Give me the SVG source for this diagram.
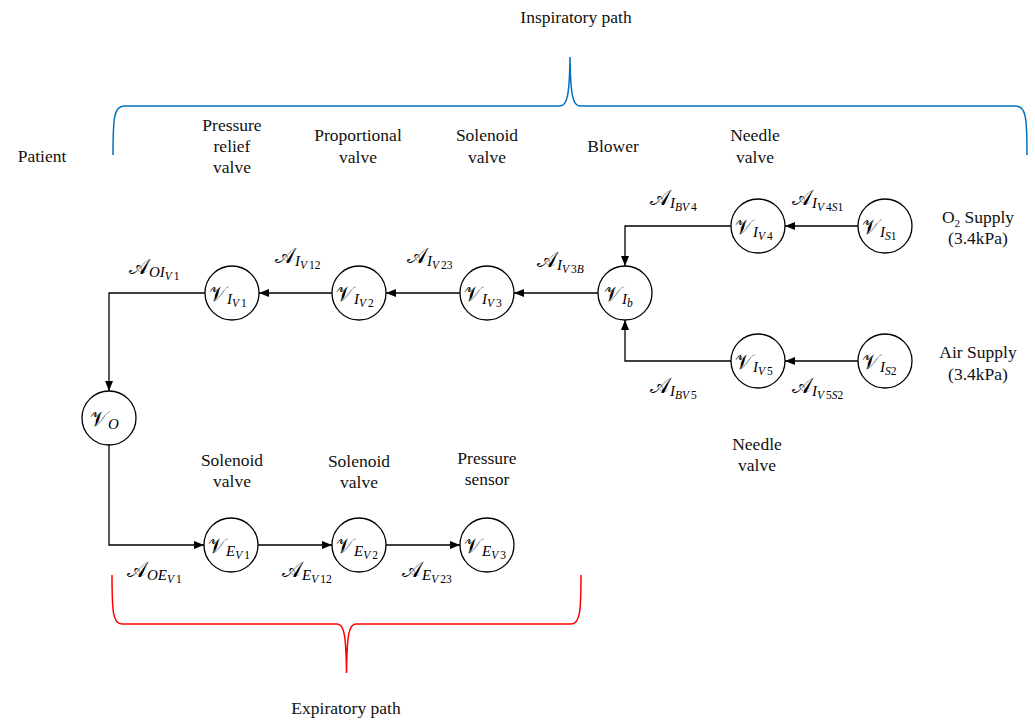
<svg xmlns="http://www.w3.org/2000/svg" width="1035" height="725" viewBox="0 0 1035 725">
<defs>
<style>
.lbl{font-family:"Liberation Serif","Times New Roman",serif;font-size:17.5px;fill:#111;text-anchor:middle}
.node circle{fill:#fff;stroke:#000;stroke-width:1.3}
.big{font-family:"DejaVu Serif","DejaVu Sans",serif;font-size:21px;font-style:normal}
.m{font-family:"Liberation Serif",serif;fill:#000}
.s1{font-size:15px;font-style:italic}
.s2{font-size:11.5px;font-style:normal}
.it{font-style:italic}
.edge{fill:none;stroke:#000;stroke-width:1.3}
</style>
<marker id="ah" viewBox="0 0 10 10" refX="10" refY="5" markerWidth="10" markerHeight="10" markerUnits="userSpaceOnUse" orient="auto">
<path d="M0,1 L10,5 L0,9 Z" fill="#000"/>
</marker>
</defs>
<rect width="1035" height="725" fill="#fff"/>

<g id="brackets" fill="none" stroke-width="1.5">
<path d="M113,155 C113,118 114,106 124,106 L560,106 C567,106 569.5,96 570,57 C570.5,96 573,106 580,106 L1016,106 C1026,106 1027,118 1027,155" stroke="#0070C0"/>
<path d="M112,575 C112,612 113,624 122,624 L337,624 C344,624 346,634 346.5,673 C347,634 349,624 356,624 L571,624 C580,624 581,612 581,575" stroke="#FF0000"/>
</g>

<g id="texts">
<text class="lbl" x="576" y="23">Inspiratory path</text>
<text class="lbl" x="346" y="714">Expiratory path</text>
<text class="lbl" x="42" y="162">Patient</text>
<text class="lbl" x="232" y="131">Pressure</text>
<text class="lbl" x="232" y="152">relief</text>
<text class="lbl" x="232" y="173">valve</text>
<text class="lbl" x="358" y="141">Proportional</text>
<text class="lbl" x="358" y="163">valve</text>
<text class="lbl" x="487" y="141">Solenoid</text>
<text class="lbl" x="487" y="163">valve</text>
<text class="lbl" x="613" y="152">Blower</text>
<text class="lbl" x="755" y="141">Needle</text>
<text class="lbl" x="755" y="163">valve</text>
<text class="lbl" x="978" y="223">O<tspan font-size="11" dy="4">2</tspan><tspan dy="-4"> Supply</tspan></text>
<text class="lbl" x="978" y="244">(3.4kPa)</text>
<text class="lbl" x="978" y="358">Air Supply</text>
<text class="lbl" x="978" y="380">(3.4kPa)</text>
<text class="lbl" x="757" y="450">Needle</text>
<text class="lbl" x="757" y="471">valve</text>
<text class="lbl" x="232" y="466">Solenoid</text>
<text class="lbl" x="232" y="487">valve</text>
<text class="lbl" x="359" y="467">Solenoid</text>
<text class="lbl" x="359" y="488">valve</text>
<text class="lbl" x="487" y="464">Pressure</text>
<text class="lbl" x="487" y="485">sensor</text>
</g>

<g id="connectors" class="edge">
<line x1="460" y1="293" x2="386" y2="293" marker-end="url(#ah)"/>
<line x1="598" y1="293" x2="514" y2="293" marker-end="url(#ah)"/>
<line x1="332" y1="293" x2="259" y2="293" marker-end="url(#ah)"/>
<polyline points="205,293 109,293 109,391" marker-end="url(#ah)"/>
<line x1="858" y1="226" x2="785" y2="226" marker-end="url(#ah)"/>
<line x1="858" y1="361" x2="785" y2="361" marker-end="url(#ah)"/>
<polyline points="731,226 625,226 625,266" marker-end="url(#ah)"/>
<polyline points="731,361 625,361 625,320" marker-end="url(#ah)"/>
<polyline points="109,445 109,545 204,545" marker-end="url(#ah)"/>
<line x1="258" y1="545" x2="332" y2="545" marker-end="url(#ah)"/>
<line x1="386" y1="545" x2="460" y2="545" marker-end="url(#ah)"/>
</g>

<g id="edge-labels" class="m">
<text x="129" y="274"><tspan class="big">𝒜</tspan><tspan class="s1" dy="3">OI</tspan><tspan class="s2" dy="3"><tspan class="it">V</tspan><tspan dx="2">1</tspan></tspan></text>
<text x="275" y="263"><tspan class="big">𝒜</tspan><tspan class="s1" dy="3">I</tspan><tspan class="s2" dy="3"><tspan class="it">V</tspan><tspan dx="2">12</tspan></tspan></text>
<text x="407" y="263"><tspan class="big">𝒜</tspan><tspan class="s1" dy="3">I</tspan><tspan class="s2" dy="3"><tspan class="it">V</tspan><tspan dx="2">23</tspan></tspan></text>
<text x="537" y="267"><tspan class="big">𝒜</tspan><tspan class="s1" dy="3">I</tspan><tspan class="s2" dy="3"><tspan class="it">V</tspan><tspan dx="2">3</tspan><tspan class="it">B</tspan></tspan></text>
<text x="650" y="205"><tspan class="big">𝒜</tspan><tspan class="s1" dy="3">I</tspan><tspan class="s2" dy="3"><tspan class="it">BV</tspan><tspan dx="2">4</tspan></tspan></text>
<text x="792" y="205"><tspan class="big">𝒜</tspan><tspan class="s1" dy="3">I</tspan><tspan class="s2" dy="3"><tspan class="it">V</tspan><tspan dx="2">4</tspan><tspan class="it">S</tspan>1</tspan></text>
<text x="650" y="393"><tspan class="big">𝒜</tspan><tspan class="s1" dy="3">I</tspan><tspan class="s2" dy="3"><tspan class="it">BV</tspan><tspan dx="2">5</tspan></tspan></text>
<text x="792" y="393"><tspan class="big">𝒜</tspan><tspan class="s1" dy="3">I</tspan><tspan class="s2" dy="3"><tspan class="it">V</tspan><tspan dx="2">5</tspan><tspan class="it">S</tspan>2</tspan></text>
<text x="127" y="577"><tspan class="big">𝒜</tspan><tspan class="s1" dy="3">OE</tspan><tspan class="s2" dy="3"><tspan class="it">V</tspan><tspan dx="2">1</tspan></tspan></text>
<text x="282" y="577"><tspan class="big">𝒜</tspan><tspan class="s1" dy="3">E</tspan><tspan class="s2" dy="3"><tspan class="it">V</tspan><tspan dx="2">12</tspan></tspan></text>
<text x="402" y="577"><tspan class="big">𝒜</tspan><tspan class="s1" dy="3">E</tspan><tspan class="s2" dy="3"><tspan class="it">V</tspan><tspan dx="2">23</tspan></tspan></text>
</g>

<g id="n-IV1" class="node"><circle cx="232" cy="293" r="27"/><text class="m" x="209" y="301"><tspan class="big">𝒱</tspan><tspan class="s1" dy="3">I</tspan><tspan class="s2" dy="3"><tspan class="it">V</tspan><tspan dx="2">1</tspan></tspan></text></g>
<g id="n-IV2" class="node"><circle cx="359" cy="293" r="27"/><text class="m" x="336" y="301"><tspan class="big">𝒱</tspan><tspan class="s1" dy="3">I</tspan><tspan class="s2" dy="3"><tspan class="it">V</tspan><tspan dx="2">2</tspan></tspan></text></g>
<g id="n-IV3" class="node"><circle cx="487" cy="293" r="27"/><text class="m" x="464" y="301"><tspan class="big">𝒱</tspan><tspan class="s1" dy="3">I</tspan><tspan class="s2" dy="3"><tspan class="it">V</tspan><tspan dx="2">3</tspan></tspan></text></g>
<g id="n-Ib" class="node"><circle cx="625" cy="293" r="27"/><text class="m" x="604" y="301"><tspan class="big">𝒱</tspan><tspan class="s1" dy="3">I</tspan><tspan class="s2 it" dy="3">b</tspan></text></g>
<g id="n-IV4" class="node"><circle cx="758" cy="226" r="27"/><text class="m" x="735" y="234"><tspan class="big">𝒱</tspan><tspan class="s1" dy="3">I</tspan><tspan class="s2" dy="3"><tspan class="it">V</tspan><tspan dx="2">4</tspan></tspan></text></g>
<g id="n-IS1" class="node"><circle cx="885" cy="226" r="27"/><text class="m" x="862" y="234"><tspan class="big">𝒱</tspan><tspan class="s1" dy="3">I</tspan><tspan class="s2" dy="3"><tspan class="it">S</tspan>1</tspan></text></g>
<g id="n-IV5" class="node"><circle cx="758" cy="361" r="27"/><text class="m" x="735" y="369"><tspan class="big">𝒱</tspan><tspan class="s1" dy="3">I</tspan><tspan class="s2" dy="3"><tspan class="it">V</tspan><tspan dx="2">5</tspan></tspan></text></g>
<g id="n-IS2" class="node"><circle cx="885" cy="361" r="27"/><text class="m" x="862" y="369"><tspan class="big">𝒱</tspan><tspan class="s1" dy="3">I</tspan><tspan class="s2" dy="3"><tspan class="it">S</tspan>2</tspan></text></g>
<g id="n-O" class="node"><circle cx="109" cy="418" r="27"/><text class="m" x="90" y="426"><tspan class="big">𝒱</tspan><tspan class="s1" dy="3">O</tspan></text></g>
<g id="n-EV1" class="node"><circle cx="231" cy="545" r="27"/><text class="m" x="208" y="553"><tspan class="big">𝒱</tspan><tspan class="s1" dy="3">E</tspan><tspan class="s2" dy="3"><tspan class="it">V</tspan><tspan dx="2">1</tspan></tspan></text></g>
<g id="n-EV2" class="node"><circle cx="359" cy="545" r="27"/><text class="m" x="336" y="553"><tspan class="big">𝒱</tspan><tspan class="s1" dy="3">E</tspan><tspan class="s2" dy="3"><tspan class="it">V</tspan><tspan dx="2">2</tspan></tspan></text></g>
<g id="n-EV3" class="node"><circle cx="487" cy="545" r="27"/><text class="m" x="464" y="553"><tspan class="big">𝒱</tspan><tspan class="s1" dy="3">E</tspan><tspan class="s2" dy="3"><tspan class="it">V</tspan><tspan dx="2">3</tspan></tspan></text></g>
</svg>
